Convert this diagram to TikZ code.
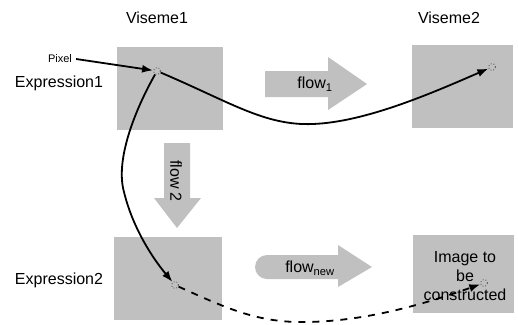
\documentclass[tikz,border=0pt]{standalone}
\usepackage{fontspec}
\setmainfont{Liberation Sans}
\usetikzlibrary{arrows.meta}
\definecolor{boxgray}{RGB}{192,192,192}
\definecolor{dotgray}{RGB}{90,90,90}
\tikzset{
  pic/.style={x=1pt,y=-1pt},
  gbox/.style={fill=boxgray,draw=none},
  lbl/.style={font=\fontsize{16}{18}\selectfont,inner sep=0pt},
  smalllbl/.style={font=\fontsize{11}{13}\selectfont,inner sep=0pt},
  flowarrow/.style={fill=boxgray,draw=none},
  pt/.style={circle,draw=dotgray,dotted,line width=0.9pt,minimum size=7pt,inner sep=0pt},
  conn/.style={line width=1.8pt,-{Latex[length=11pt,width=8pt]}},
  dconn/.style={conn,dash pattern=on 7pt off 7pt}
}
\begin{document}
\begin{tikzpicture}[pic]
\useasboundingbox (0,0) rectangle (518,324);
% boxes
\fill[gbox] (117,47) rectangle (223,130) coordinate (b11);
\fill[gbox] (412,45) rectangle (513,128) coordinate (b12);
\fill[gbox] (114,237) rectangle (222,320) coordinate (b21);
\fill[gbox] (413,235) rectangle (514,313) coordinate (b22);
% flow arrows
\fill[flowarrow] (265,71) -- (328,71) -- (328,57) -- (367,84) -- (328,110) -- (328,97) -- (265,97) -- cycle;
\fill[flowarrow] (164,143) -- (190,143) -- (190,198) -- (201,198) -- (177,228) -- (154,198) -- (164,198) -- cycle;
\fill[flowarrow] (267,255) -- (338,255) -- (338,245) -- (372,267) -- (338,287) -- (338,279) -- (267,279) arc[start angle=90,end angle=270,radius=12] -- cycle;
% labels
\node[lbl] (v1) at (157,18) {Viseme1};
\node[lbl] (v2) at (449,18) {Viseme2};
\node[lbl] (e1) at (59,83) {Expression1};
\node[lbl] (e2) at (59,280) {Expression2};
\node[smalllbl,inner sep=4pt] (pix) at (60,59) {Pixel};
\node[lbl] (f1) at (315,84) {flow\textsubscript{1}};
\node[lbl,rotate=-90] (f2) at (176,181) {flow 2};
\node[lbl] (fn) at (310,268) {flow\textsubscript{new}};
\node[lbl,align=center,font=\fontsize{16}{19}\selectfont] (img) at (465,276) {Image to\\be\\constructed};
% points
\node[pt] (p1) at (157,71) {};
\node[pt] (p2) at (492,67) {};
\node[pt] (p3) at (175,285) {};
\node[pt] (p4) at (484,283) {};
% connectors
\draw[conn] (pix.east) -- (p1);
\draw[conn] (p1) .. controls (230,102) and (265,126) .. (313,124) .. controls (365,122) and (430,94) .. (p2);
\draw[conn] (p1) .. controls (135,110) and (115,160) .. (124,192) .. controls (132,225) and (150,255) .. (p3);
\draw[dconn] (p3) .. controls (230,310) and (260,323) .. (307,322) .. controls (370,321) and (430,302) .. (p4);
\end{tikzpicture}
\end{document}
